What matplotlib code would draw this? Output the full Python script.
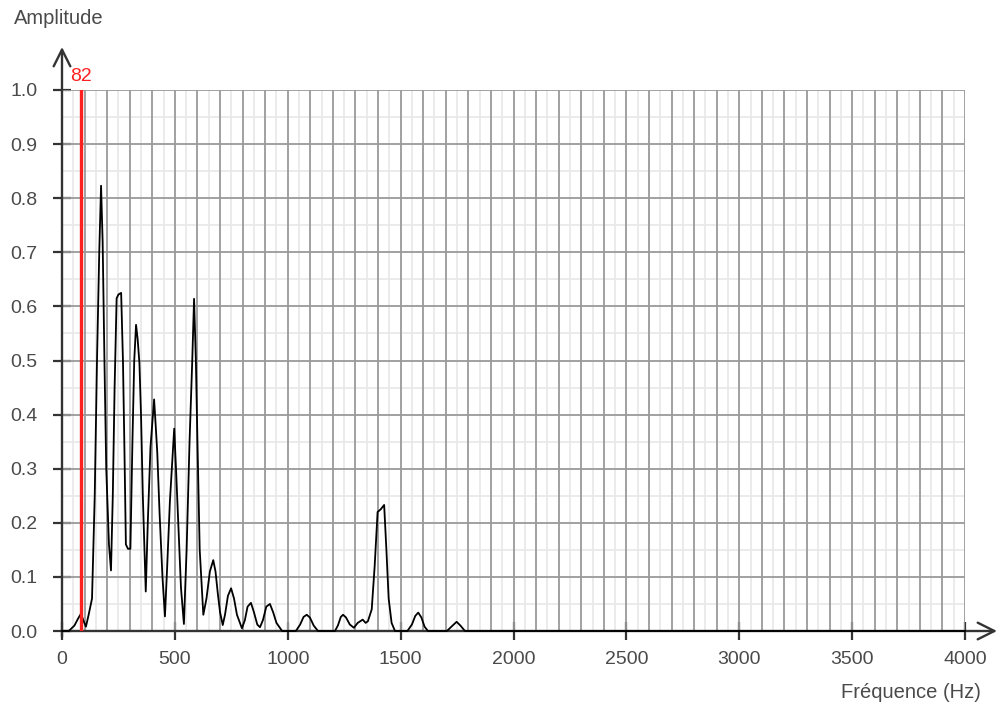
import numpy as np
import matplotlib.pyplot as plt

# spectre : fréquences (Hz) et amplitudes relevées
freq = [0, 30, 55, 70, 84, 96, 106, 118, 133, 145, 155, 165, 173, 180, 188, 196,
        208, 217, 225, 233, 242, 250, 262, 270, 276, 283, 292, 303, 312, 320,
        328, 335, 343, 350, 358, 371, 380, 392, 408, 415, 422, 432, 445, 456,
        466, 478, 497, 505, 515, 527, 540, 552, 565, 577, 585, 593, 600, 610,
        626, 640, 655, 670, 680, 690, 700, 712, 722, 735, 749, 762, 775, 797,
        810, 822, 837, 850, 865, 877, 890, 905, 921, 935, 950, 975, 1036, 1055,
        1070, 1084, 1098, 1115, 1134, 1209, 1222, 1235, 1245, 1258, 1275, 1293,
        1310, 1332, 1345, 1355, 1372, 1385, 1398, 1412, 1427, 1437, 1447, 1460,
        1475, 1530, 1550, 1565, 1578, 1592, 1606, 1621, 1705, 1725, 1748, 1765,
        1785, 4000]
amp = [0.0, 0.0, 0.01, 0.022, 0.032, 0.018, 0.008, 0.03, 0.06, 0.25, 0.5, 0.7,
       0.823, 0.72, 0.5, 0.3, 0.16, 0.112, 0.25, 0.45, 0.615, 0.622, 0.625, 0.5,
       0.35, 0.16, 0.152, 0.152, 0.35, 0.5, 0.566, 0.54, 0.495, 0.4, 0.25, 0.073,
       0.2, 0.34, 0.428, 0.38, 0.33, 0.22, 0.1, 0.027, 0.12, 0.24, 0.374, 0.3,
       0.2, 0.08, 0.013, 0.15, 0.35, 0.5, 0.614, 0.5, 0.35, 0.15, 0.03, 0.06,
       0.11, 0.131, 0.11, 0.07, 0.035, 0.011, 0.03, 0.065, 0.079, 0.06, 0.03,
       0.005, 0.02, 0.045, 0.052, 0.035, 0.012, 0.007, 0.02, 0.045, 0.05, 0.035,
       0.015, 0.0, 0.0, 0.012, 0.026, 0.03, 0.025, 0.01, 0.0, 0.0, 0.01, 0.026,
       0.03, 0.025, 0.012, 0.006, 0.015, 0.021, 0.015, 0.018, 0.04, 0.12, 0.22,
       0.225, 0.233, 0.15, 0.06, 0.015, 0.0, 0.0, 0.012, 0.028, 0.034, 0.025,
       0.008, 0.0, 0.0, 0.008, 0.017, 0.01, 0.0, 0.0]

f_marker = 82
x_ticks = [0, 500, 1000, 1500, 2000, 2500, 3000, 3500, 4000]
y_ticks = [0.0, 0.1, 0.2, 0.3, 0.4, 0.5, 0.6, 0.7, 0.8, 0.9, 1.0]

plt.rcParams['font.family'] = ['Liberation Sans', 'DejaVu Sans']
txt = '#4a4a4a'

fig = plt.figure(figsize=(9.97, 7.05), dpi=100)
W, H = 997, 705
ax = fig.add_axes([62 / W, 1 - 631 / H, 903 / W, 541 / H])
ax.set_xlim(0, 4000)
ax.set_ylim(0, 1.0)
for s in ax.spines.values():
    s.set_visible(False)

# quadrillage : fin tous les 50 Hz / 0.05, principal tous les 100 Hz / 0.1
for f in np.arange(50, 4000, 100):
    ax.axvline(f, color='#e8e8e8', lw=1.2, zorder=1)
for a in np.arange(0.05, 1.0, 0.1):
    ax.axhline(a, color='#e8e8e8', lw=1.2, zorder=1)
for f in np.arange(100, 4001, 100):
    ax.axvline(f, color='#9a9a9a', lw=1.3, zorder=2)
for a in np.arange(0.1, 1.01, 0.1):
    ax.axhline(a, color='#9a9a9a', lw=1.3, zorder=2)

# axes avec flèches
arrow = dict(arrowstyle='->', color='#333333', lw=1.7,
             mutation_scale=30, shrinkA=0, shrinkB=0)
ax.annotate('', xy=(1.0 + 32 / 903, 0), xytext=(0, 0), xycoords='axes fraction',
            arrowprops=arrow, annotation_clip=False, zorder=5)
ax.annotate('', xy=(0, 1.0 + 43 / 541), xytext=(0, -6 / 541), xycoords='axes fraction',
            arrowprops=arrow, annotation_clip=False, zorder=5)

ax.set_xticks(x_ticks)
ax.set_yticks(y_ticks)
ax.set_xticklabels([str(v) for v in x_ticks])
ax.set_yticklabels([f'{v:.1f}' for v in y_ticks])
ax.tick_params(axis='both', direction='inout', length=13, width=1.6,
               color='#333333', labelcolor=txt, labelsize=14)
ax.tick_params(axis='x', pad=8)
ax.tick_params(axis='y', pad=11)

# spectre
ax.plot(freq, amp, color='black', lw=1.3, zorder=6, clip_on=False)

# fréquence fondamentale
ax.plot([f_marker, f_marker], [0, 1.0], color='#ff2020', lw=2.4, zorder=7)
ax.text(f_marker, 1.01, str(f_marker), color='#ff2020', fontsize=14,
        ha='center', va='bottom')

fig.text(14 / W, 1 - 19 / H, 'Amplitude', color=txt, fontsize=14.5,
         ha='left', va='center')
fig.text(981 / W, 1 - 692 / H, 'Fréquence (Hz)', color=txt, fontsize=14.5,
         ha='right', va='center')

fig.savefig('out.png', dpi=100)
